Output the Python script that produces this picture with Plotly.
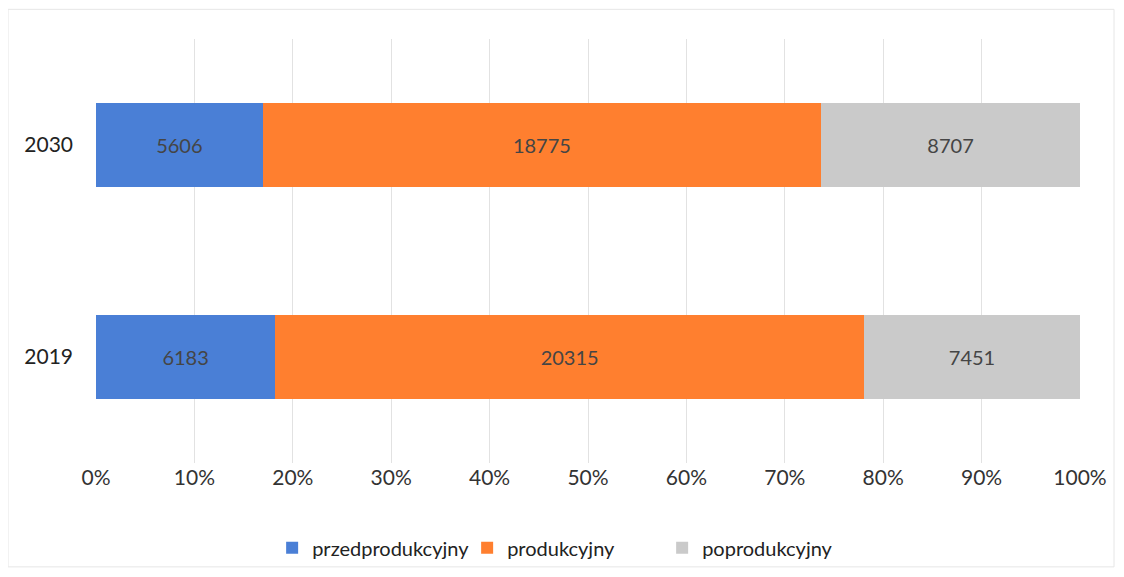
import plotly.graph_objects as go

years = ["2019", "2030"]
series_names = ["przedprodukcyjny", "produkcyjny", "poprodukcyjny"]
przed = [6183, 5606]
prod = [20315, 18775]
popro = [7451, 8707]
colors = ["#4A7FD6", "#FF7F2F", "#CACACA"]
tick_vals = [0, 10, 20, 30, 40, 50, 60, 70, 80, 90, 100]
tick_text = [f"{v}%" for v in tick_vals]

fig = go.Figure()
for name, vals, col in zip(series_names, [przed, prod, popro], colors):
    fig.add_trace(go.Bar(
        y=years, x=vals, name=name, orientation="h",
        marker=dict(color=col, line=dict(width=0)),
        text=[str(v) for v in vals], textposition="inside",
        insidetextanchor="middle",
        textfont=dict(size=20, color="#454545", family="Lato"),
        width=0.4,
    ))

fig.update_layout(
    barmode="stack", barnorm="percent",
    width=1108, height=561,
    margin=dict(l=88, r=36, t=31, b=106, autoexpand=False),
    paper_bgcolor="white", plot_bgcolor="white",
    font=dict(family="Lato", size=20, color="#333333"),
    xaxis=dict(range=[0, 100], tickvals=tick_vals, ticktext=tick_text,
               showgrid=True, gridcolor="#E2E2E2", gridwidth=1,
               zeroline=False, showline=False, ticks="", automargin=False,
               tickfont=dict(size=21, color="#333333")),
    yaxis=dict(categoryorder="array", categoryarray=years,
               range=[-0.5, 1.5], showgrid=False, zeroline=False,
               ticks="", ticklabelstandoff=22, automargin=False,
               tickfont=dict(size=21, color="#222222")),
    legend=dict(orientation="h", x=0.179, xanchor="left", y=-0.2,
                yanchor="middle", font=dict(size=20, color="#222222"),
                traceorder="normal", itemwidth=30,
                bgcolor="rgba(0,0,0,0)",
                entrywidth=150, entrywidthmode="pixels"),
    showlegend=True,
    shapes=[dict(type="rect", xref="paper", yref="paper",
                 x0=-0.0894, x1=1.0346, y0=-0.245, y1=1.07,
                 line=dict(color="#E6E6E6", width=1))],
)

fig.write_html("out.html")
